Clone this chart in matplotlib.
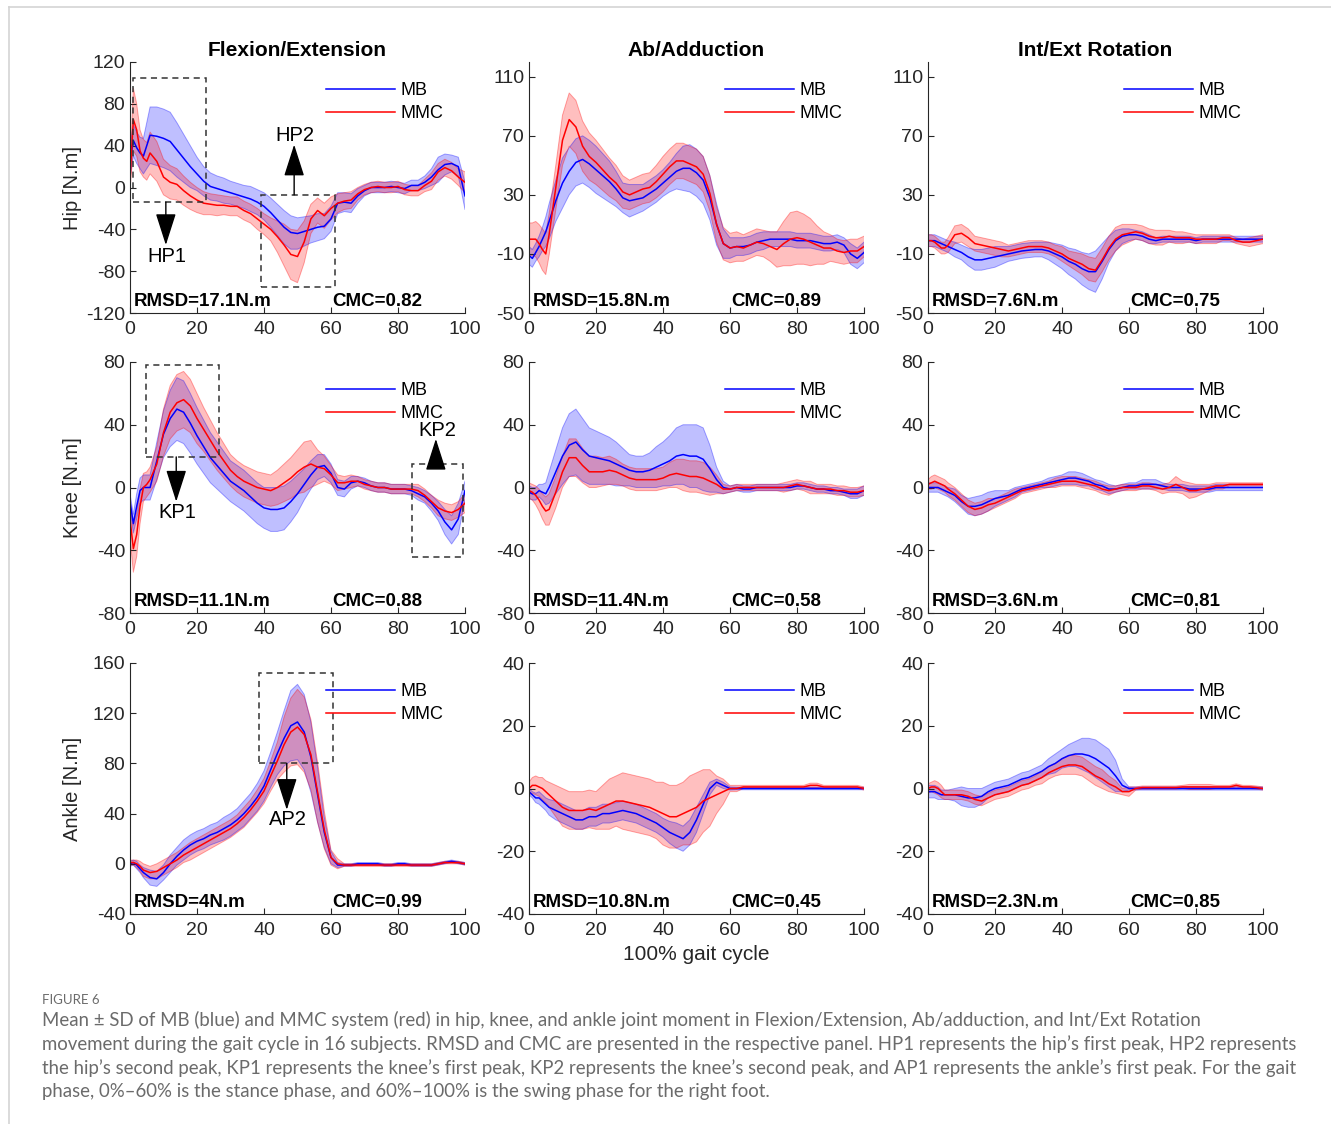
import numpy as np
import matplotlib
matplotlib.use("Agg")
import matplotlib.pyplot as plt
from matplotlib.patches import Rectangle
from matplotlib.lines import Line2D

plt.rcParams['font.family'] = ['Liberation Sans', 'DejaVu Sans']
plt.rcParams['axes.unicode_minus'] = False

### Data, % gait cycle
gait = [0, 1, 2, 3, 4, 5, 6,
        8, 10, 12, 14, 16, 18, 20, 22, 24, 26,
        28, 30, 32, 34, 36, 38, 40, 42, 44, 46,
        48, 50, 52, 54, 56, 58, 60, 62, 64, 66,
        68, 70, 72, 74, 76, 78, 80, 82, 84, 86,
        88, 90, 92, 94, 96, 98, 100]

# Hip - Flexion/Extension
hip_fe_mb_mean = [25, 45, 38, 33, 30, 40, 50,
                  49, 47, 44, 36, 28, 20, 13, 6, 1, -1,
                  -3, -5, -7, -9, -11, -14, -18, -24, -31, -38,
                  -43, -44, -42, -40, -38, -37, -30, -15, -14, -15,
                  -8, -3, 0, 0, 0, 1, 0, -1, 2, 2,
                  5, 10, 17, 22, 23, 20, -8]
hip_fe_mb_sd = [15, 15, 15, 15, 17, 22, 27,
                28, 28, 28, 26, 23, 20, 16, 14, 13, 12,
                12, 11, 11, 11, 12, 12, 13, 14, 15, 16,
                16, 15, 14, 13, 13, 12, 12, 10, 9, 9,
                7, 5, 5, 5, 5, 5, 5, 5, 5, 5,
                6, 8, 12, 10, 8, 9, 13]
hip_fe_mmc_mean = [8, 65, 55, 35, 28, 25, 33,
                   25, 10, 5, 3, -3, -8, -12, -15, -16, -17,
                   -17, -18, -18, -22, -25, -30, -35, -40, -47, -55,
                   -64, -66, -52, -30, -22, -27, -20, -15, -13, -12,
                   -6, -2, 0, 1, 0, 0, 1, -2, -3, -3,
                   2, 6, 15, 19, 16, 10, 5]
hip_fe_mmc_sd = [10, 30, 25, 20, 18, 18, 20,
                 19, 17, 16, 15, 14, 13, 12, 11, 10, 10,
                 9, 9, 9, 9, 9, 10, 10, 11, 15, 20,
                 24, 25, 20, 14, 12, 12, 11, 9, 8, 8,
                 6, 5, 5, 5, 5, 5, 5, 5, 5, 5,
                 6, 8, 8, 8, 8, 8, 10]

# Hip - Ab/Adduction
hip_aa_mb_mean = [-11, -13, -9, -5, 0, 5, 12,
                  26, 38, 46, 52, 54, 51, 47, 43, 39, 34,
                  28, 26, 27, 28, 31, 34, 38, 42, 46, 48,
                  48, 45, 40, 28, 10, -3, -6, -5, -5, -4,
                  -2, -1, 0, 0, 0, 0, -1, -1, -1, -2,
                  -3, -3, -2, -4, -10, -13, -9]
hip_aa_mb_sd = [6, 6, 6, 7, 8, 10, 12,
                14, 17, 16, 16, 16, 16, 16, 15, 14, 12,
                10, 11, 10, 9, 9, 9, 9, 10, 12, 15,
                16, 16, 16, 15, 14, 10, 7, 6, 6, 6,
                6, 6, 5, 5, 5, 5, 5, 5, 5, 5,
                5, 5, 5, 5, 7, 7, 7]
hip_aa_mmc_mean = [0, 0, 0, -3, -7, -10, 3,
                   35, 67, 81, 76, 63, 56, 52, 47, 42, 38,
                   32, 30, 32, 34, 35, 39, 44, 49, 53, 53,
                   51, 49, 44, 31, 10, -3, -6, -5, -6, -4,
                   -2, -3, -5, -7, -3, 0, 1, 0, -2, -4,
                   -6, -6, -8, -9, -8, -8, -5]
hip_aa_mmc_sd = [11, 11, 12, 13, 14, 14, 14,
                 15, 17, 18, 18, 17, 16, 15, 14, 13, 12,
                 11, 10, 10, 10, 10, 11, 12, 12, 12, 12,
                 12, 12, 12, 12, 12, 11, 10, 10, 9, 9,
                 9, 9, 10, 12, 15, 18, 18, 17, 16, 13,
                 11, 9, 8, 8, 8, 8, 7]

# Hip - Int/Ext Rotation
hip_ie_mb_mean = [-1, -1, -1, -2, -3, -4, -5,
                  -7, -9, -12, -14, -14, -13, -12, -11, -10, -9,
                  -8, -7.5, -7, -7, -8, -10, -12, -15, -17, -20,
                  -22, -22, -15, -7, -1, 2, 3, 3, 2, 0,
                  -1, 0, 0, 0, 0, 0, -1, 0, 0, 0,
                  0, 0, 0, 0, 0, 0, 0]
hip_ie_mb_sd = [4, 4, 4, 4, 4, 4, 4,
                5, 5, 6, 7, 7, 7, 7, 6, 5, 5,
                5, 5, 5, 5, 6, 7, 8, 9, 10, 11,
                12, 14, 12, 9, 7, 5, 4, 3, 3, 3,
                2, 2, 2, 2, 2, 2, 2, 2, 2, 2,
                2, 2, 2, 2, 2, 2, 2]
hip_ie_mmc_mean = [-1, -1, -2, -4, -6, -6, -4,
                   3, 4, 1, -3, -4, -5, -6, -7, -8, -7,
                   -6, -5, -5, -5, -6, -8, -10, -13, -15, -17,
                   -20, -21, -14, -6, 0, 3, 4, 5, 4, 2,
                   1, 1, 2, 1, 1, 1, 0, 0, 0, 0,
                   1, 1, -1, -2, -2, -1, 0]
hip_ie_mmc_sd = [4, 4, 4, 4, 4, 4, 5,
                 6, 6, 6, 5, 5, 5, 5, 5, 4, 4,
                 4, 4, 4, 4, 4, 4, 5, 5, 6, 7,
                 8, 8, 8, 8, 8, 7, 6, 5, 5, 5,
                 5, 5, 4, 4, 4, 3, 3, 3, 3, 3,
                 2, 2, 2, 2, 3, 3, 3]

# Knee - Flexion/Extension
knee_fe_mb_mean = [-9, -23, -12, -2, 0, 0, 0,
                   17, 34, 44, 50, 48, 41, 33, 26, 19, 14,
                   9, 4, 1, -2, -6, -10, -13, -14, -14, -13,
                   -9, -4, 2, 8, 13, 14, 9, 0, -1, 3,
                   4, 3, 1, 0, 0, -1, -1, -1, -2, -4,
                   -6, -10, -15, -22, -27, -20, -2]
knee_fe_mb_sd = [5, 6, 8, 8, 8, 8, 8,
                 12, 15, 18, 20, 20, 19, 18, 17, 16, 15,
                 14, 13, 13, 13, 13, 13, 13, 14, 14, 14,
                 13, 12, 10, 9, 8, 7, 6, 5, 5, 4,
                 3, 3, 3, 3, 3, 3, 3, 3, 3, 4,
                 4, 5, 6, 8, 9, 10, 6]
knee_fe_mmc_mean = [-20, -39, -30, -12, 0, 2, 5,
                    15, 35, 48, 54, 56, 52, 44, 37, 30, 23,
                    17, 11, 7, 4, 2, 0, -1, -2, 0, 3,
                    6, 10, 13, 15, 13, 12, 8, 3, 3, 4,
                    4, 2, 1, 0, 0, -1, -1, -1, -1, -2,
                    -5, -9, -13, -15, -16, -14, -10]
knee_fe_mmc_sd = [12, 15, 14, 11, 9, 8, 8,
                  11, 15, 17, 18, 18, 17, 16, 14, 13, 12,
                  11, 10, 10, 10, 10, 10, 10, 10, 11, 12,
                  13, 14, 16, 15, 11, 8, 6, 5, 4, 4,
                  3, 3, 3, 3, 3, 3, 3, 3, 3, 4,
                  4, 4, 5, 5, 5, 5, 6]

# Knee - Ab/Adduction
knee_aa_mb_mean = [-3, -4, -4, -2, -3, -4, 0,
                   10, 20, 27, 29, 24, 20, 19, 18, 17, 15,
                   13, 11, 10, 10, 11, 13, 15, 17, 20, 21,
                   20, 20, 18, 12, 5, 0, -1, 0, -1, -1,
                   0, 0, 0, 0, 0, 0, 1, 1, 0, -1,
                   -1, -2, -2, -3, -4, -4, -2]
knee_aa_mb_sd = [4, 4, 4, 4, 5, 7, 10,
                 14, 18, 20, 21, 20, 18, 17, 16, 15, 14,
                 12, 10, 10, 10, 11, 13, 14, 16, 18, 19,
                 20, 20, 20, 15, 8, 4, 2, 2, 2, 2,
                 2, 2, 2, 2, 2, 2, 2, 2, 2, 2,
                 2, 2, 2, 2, 3, 3, 3]
knee_aa_mmc_mean = [-2, -3, -5, -8, -12, -15, -14,
                    -3, 10, 19, 19, 14, 10, 10, 10, 11, 10,
                    8, 6, 5, 5, 5, 5, 6, 8, 9, 8,
                    7, 7, 6, 4, 2, -1, -1, 0, 0, 0,
                    0, 0, 0, 0, 0, 1, 2, 1, 0, -1,
                    -1, -1, -2, -2, -3, -3, -2]
knee_aa_mmc_sd = [5, 5, 6, 7, 8, 9, 10,
                  10, 10, 12, 12, 11, 10, 10, 9, 9, 8,
                  7, 7, 7, 7, 7, 7, 7, 8, 9, 10,
                  10, 10, 10, 9, 6, 3, 2, 2, 2, 2,
                  2, 2, 2, 2, 3, 3, 3, 3, 4, 3,
                  3, 3, 3, 3, 3, 3, 3]

# Knee - Int/Ext Rotation
knee_ie_mb_mean = [0, 0, 0, 0, -1, -2, -3,
                   -5, -9, -12, -12, -11, -9, -7, -6, -5, -3,
                   -1, 0, 1, 2, 3, 4, 5, 6, 6, 5,
                   4, 2, 1, -1, -1, 0, 1, 1, 2, 2,
                   2, 1, 0, 0, 0, -1, -1, -1, -1, 0,
                   0, 0, 0, 0, 0, 0, 0]
knee_ie_mb_sd = [3, 3, 3, 3, 3, 3, 3,
                 4, 4, 5, 6, 6, 6, 5, 4, 3, 3,
                 2, 2, 2, 2, 3, 3, 3, 4, 4, 4,
                 3, 3, 3, 3, 2, 2, 2, 2, 3, 3,
                 3, 2, 2, 2, 2, 2, 2, 2, 2, 2,
                 2, 2, 2, 2, 2, 2, 2]
knee_ie_mmc_mean = [2, 3, 4, 3, 2, 1, -1,
                    -4, -8, -12, -14, -13, -11, -10, -8, -6, -4,
                    -2, -1, 0, 1, 2, 3, 4, 4, 4, 3,
                    2, 1, -1, -2, -1, 0, 0, 0, 1, 1,
                    0, -1, 0, 2, 0, -2, -2, -1, 0, 1,
                    1, 2, 2, 2, 2, 2, 2]
knee_ie_mmc_sd = [3, 4, 4, 4, 4, 4, 4,
                  4, 4, 4, 4, 4, 4, 3, 3, 3, 3,
                  2, 2, 2, 2, 2, 3, 3, 3, 3, 3,
                  3, 3, 3, 3, 2, 2, 2, 2, 2, 2,
                  2, 3, 3, 5, 4, 5, 4, 3, 2, 2,
                  2, 1, 1, 1, 1, 1, 1]

# Ankle - Flexion/Extension
ankle_fe_mb_mean = [0, 1, -1, -4, -7, -9, -11,
                    -12, -7, 0, 6, 11, 15, 18, 20, 23, 25,
                    28, 31, 35, 40, 46, 53, 62, 75, 88, 100,
                    110, 113, 105, 85, 55, 25, 5, -1, -1, -1,
                    0, 0, 0, 0, -1, -1, 0, 0, -1, -1,
                    -1, -1, 0, 1, 2, 1, 0]
ankle_fe_mb_sd = [2, 2, 3, 3, 4, 5, 6,
                  6, 6, 7, 7, 8, 8, 8, 8, 8, 8,
                  9, 9, 9, 10, 10, 11, 12, 14, 17, 22,
                  28, 30, 30, 28, 22, 12, 5, 2, 1, 1,
                  1, 1, 1, 1, 1, 1, 1, 1, 1, 1,
                  1, 1, 1, 1, 1, 1, 1]
ankle_fe_mmc_mean = [1, 1, 0, -2, -5, -6, -7,
                     -6, -3, 0, 3, 7, 10, 13, 16, 19, 22,
                     25, 28, 32, 37, 43, 50, 58, 70, 82, 95,
                     105, 109, 103, 87, 57, 27, 5, 0, -1, -1,
                     -1, -1, -1, -1, -1, -1, -1, -1, -1, -1,
                     -1, -1, 0, 1, 1, 1, 0]
ankle_fe_mmc_sd = [2, 2, 3, 4, 5, 5, 5,
                   6, 6, 6, 6, 6, 7, 7, 7, 7, 7,
                   7, 7, 7, 8, 8, 9, 10, 12, 15, 22,
                   27, 30, 30, 28, 24, 15, 6, 4, 1, 1,
                   1, 1, 1, 1, 1, 1, 1, 1, 1, 1,
                   1, 1, 1, 1, 1, 1, 1]

# Ankle - Ab/Adduction
ankle_aa_mb_mean = [-1, -2, -3, -3, -4, -5, -6,
                    -7, -8, -9, -10, -10, -9, -9, -8, -8, -7.5,
                    -7, -7.5, -8, -9, -10, -11, -12.5, -14, -15, -16,
                    -14, -10, -5, 0, 2, 1, 0, 0, 0, 0,
                    0, 0, 0, 0, 0, 0, 0, 0, 0, 0,
                    0, 0, 0, 0, 0, 0, 0]
ankle_aa_mb_sd = [1, 1, 1.5, 2, 2, 2, 2.5,
                  3, 3, 3, 3, 3, 3, 3, 3, 3, 3,
                  3, 3, 3, 3, 3, 3, 3, 3.5, 4, 4,
                  4, 4, 3, 2, 1, 1, 0.5, 0.4, 0.4, 0.4,
                  0.4, 0.4, 0.4, 0.4, 0.4, 0.4, 0.4, 0.4, 0.4, 0.4,
                  0.4, 0.4, 0.4, 0.4, 0.4, 0.4, 0.4]
ankle_aa_mmc_mean = [0, 1, 1, 0.5, 0, -1, -2,
                     -4, -6, -7, -7, -7, -6.5, -7, -6, -5, -4,
                     -4, -4.5, -5, -5.5, -6, -7, -8, -9, -9, -8,
                     -7, -6, -4, -3, -2, -1, 0, 0, 0.5, 0.5,
                     0.5, 0.5, 0.5, 0.5, 0.5, 0.5, 0.5, 0.5, 1, 1,
                     0.5, 0.5, 0.5, 0.5, 0.5, 0.5, 0]
ankle_aa_mmc_sd = [2, 2.5, 3, 3, 3.5, 3.5, 4,
                   5, 6, 6, 6, 6, 6, 6, 7, 8, 8,
                   9, 9, 9, 9, 9, 9, 10, 10, 10, 10,
                   11, 11, 10, 9, 6, 4, 1, 1, 0.5, 0.5,
                   0.5, 0.5, 0.5, 0.5, 0.5, 0.5, 0.5, 0.5, 0.7, 0.7,
                   0.5, 0.5, 0.5, 0.5, 0.5, 0.5, 0.5]

# Ankle - Int/Ext Rotation
ankle_ie_mb_mean = [-1, -1, -1, -1.5, -2, -2, -2,
                    -2, -2.5, -3, -3, -2.5, -1, 0, 0.5, 1, 2,
                    3, 3.5, 4.5, 5.5, 7, 8, 9.5, 10.5, 11, 11,
                    10.5, 9.5, 8, 6.5, 4, 1, 0, 0, 0, 0,
                    0, 0, 0, 0, 0, 0, 0, 0, 0, 0,
                    0, 0, 0, 0, 0, 0, 0]
ankle_ie_mb_sd = [2, 2, 2, 2, 1.5, 1.5, 1.5,
                  2, 3, 3, 3, 2.5, 2, 2, 2, 2, 2,
                  2, 2, 2, 2, 2.5, 3, 3, 3.5, 4, 5,
                  5.5, 6, 6, 6, 5, 2, 0.5, 0.5, 0.5, 0.5,
                  0.5, 0.5, 0.5, 0.5, 0.5, 0.5, 0.5, 0.5, 0.5, 0.5,
                  0.5, 0.5, 0.5, 0.5, 0.5, 0.5, 0.5]
ankle_ie_mmc_mean = [0, 0.5, 0.5, 0, -1, -2, -2,
                     -2, -2, -2.5, -3.5, -4, -3, -2, -1.5, -1, 0,
                     1, 1.5, 2.5, 3.5, 5, 6, 7, 7.5, 7.5, 7,
                     5.5, 4, 3, 1.5, 0.5, -1, -1, 0, 0.3, 0.3,
                     0.3, 0.3, 0.3, 0.3, 0.5, 0.5, 0.5, 0.5, 0.5, 0.5,
                     0.5, 0.5, 1, 0.5, 0.5, 0.3, 0]
ankle_ie_mmc_sd = [1.5, 1.5, 2, 2, 2, 1.5, 1.5,
                   1.5, 1.5, 1.5, 1.5, 1.5, 1.5, 1.5, 1.5, 1.5, 1.5,
                   1.5, 1.5, 1.5, 2, 2, 2, 2.5, 3, 3, 3,
                   3, 3, 3, 2.5, 2, 1, 1.5, 0.5, 0.5, 0.5,
                   0.5, 0.5, 0.5, 0.5, 0.5, 0.8, 0.8, 0.8, 0.8, 0.5,
                   0.5, 0.5, 0.5, 0.5, 0.5, 0.5, 0.5]

col_titles = ['Flexion/Extension', 'Ab/Adduction', 'Int/Ext Rotation']
row_labels = ['Hip [N.m]', 'Knee [N.m]', 'Ankle [N.m]']
rmsd_labels = [['RMSD=17.1N.m', 'RMSD=15.8N.m', 'RMSD=7.6N.m'],
               ['RMSD=11.1N.m', 'RMSD=11.4N.m', 'RMSD=3.6N.m'],
               ['RMSD=4N.m', 'RMSD=10.8N.m', 'RMSD=2.3N.m']]
cmc_labels = [['CMC=0.82', 'CMC=0.89', 'CMC=0.75'],
              ['CMC=0.88', 'CMC=0.58', 'CMC=0.81'],
              ['CMC=0.99', 'CMC=0.45', 'CMC=0.85']]

series = [[(hip_fe_mb_mean, hip_fe_mb_sd, hip_fe_mmc_mean, hip_fe_mmc_sd),
           (hip_aa_mb_mean, hip_aa_mb_sd, hip_aa_mmc_mean, hip_aa_mmc_sd),
           (hip_ie_mb_mean, hip_ie_mb_sd, hip_ie_mmc_mean, hip_ie_mmc_sd)],
          [(knee_fe_mb_mean, knee_fe_mb_sd, knee_fe_mmc_mean, knee_fe_mmc_sd),
           (knee_aa_mb_mean, knee_aa_mb_sd, knee_aa_mmc_mean, knee_aa_mmc_sd),
           (knee_ie_mb_mean, knee_ie_mb_sd, knee_ie_mmc_mean, knee_ie_mmc_sd)],
          [(ankle_fe_mb_mean, ankle_fe_mb_sd, ankle_fe_mmc_mean, ankle_fe_mmc_sd),
           (ankle_aa_mb_mean, ankle_aa_mb_sd, ankle_aa_mmc_mean, ankle_aa_mmc_sd),
           (ankle_ie_mb_mean, ankle_ie_mb_sd, ankle_ie_mmc_mean, ankle_ie_mmc_sd)]]

y_ticks = [[[-120, -80, -40, 0, 40, 80, 120], [-50, -10, 30, 70, 110], [-50, -10, 30, 70, 110]],
           [[-80, -40, 0, 40, 80]] * 3,
           [[-40, 0, 40, 80, 120, 160], [-40, -20, 0, 20, 40], [-40, -20, 0, 20, 40]]]
y_lims = [[(-120, 120), (-50, 120), (-50, 120)],
          [(-80, 80)] * 3,
          [(-40, 160), (-40, 40), (-40, 40)]]

# peak markers: (row, col, box x0, x1, y0, y1, arrow x, arrow from, arrow to, label, label y)
peak_boxes = [(0, 0, 0.8, 22.7, -14, 104.5, 10.7, -14, -55, 'HP1', -66),
              (0, 0, 39.1, 61.2, -95, -7, 49.0, -7, 41, 'HP2', 50),
              (1, 0, 4.8, 26.6, 19.5, 78, 13.8, 19.5, -9, 'KP1', -16),
              (1, 0, 84.2, 99.4, -44, 15, 91.3, 15, 31, 'KP2', 36.5),
              (2, 0, 38.5, 60.6, 80, 152, 46.8, 80, 43, 'AP2', 35)]

MB_COLOR = '#0000ff'
MMC_COLOR = '#ff0000'
TXT = '#262626'

fig = plt.figure(figsize=(13.31, 11.24), dpi=100)
W, H = 1331.0, 1124.0
col_left = [130, 529, 928]
row_top = [62, 362, 663]
ax_w, ax_h = 335, 251

x = np.array(gait, dtype=float)
axes = {}
for r in range(3):
    for c in range(3):
        ax = fig.add_axes([col_left[c] / W, 1 - (row_top[r] + ax_h) / H, ax_w / W, ax_h / H])
        axes[(r, c)] = ax
        mb_m, mb_s, mmc_m, mmc_s = [np.array(a, dtype=float) for a in series[r][c]]
        assert len(mb_m) == len(x) and len(mb_s) == len(x) and len(mmc_m) == len(x) and len(mmc_s) == len(x)

        ax.fill_between(x, mb_m - mb_s, mb_m + mb_s, facecolor=MB_COLOR, alpha=0.25,
                        edgecolor='none')
        ax.plot(x, mb_m + mb_s, color=MB_COLOR, alpha=0.35, lw=0.7)
        ax.plot(x, mb_m - mb_s, color=MB_COLOR, alpha=0.35, lw=0.7)
        ax.fill_between(x, mmc_m - mmc_s, mmc_m + mmc_s, facecolor=MMC_COLOR, alpha=0.25,
                        edgecolor='none')
        ax.plot(x, mmc_m + mmc_s, color=MMC_COLOR, alpha=0.35, lw=0.7)
        ax.plot(x, mmc_m - mmc_s, color=MMC_COLOR, alpha=0.35, lw=0.7)
        l1, = ax.plot(x, mb_m, color=MB_COLOR, lw=1.1)
        l2, = ax.plot(x, mmc_m, color=MMC_COLOR, lw=1.1)

        ax.set_xlim(0, 100)
        ax.set_ylim(*y_lims[r][c])
        ax.set_xticks([0, 20, 40, 60, 80, 100])
        ax.set_yticks(y_ticks[r][c])
        for s in ['top', 'right']:
            ax.spines[s].set_visible(False)
        for s in ['left', 'bottom']:
            ax.spines[s].set_color(TXT)
            ax.spines[s].set_linewidth(0.8)
        ax.tick_params(direction='in', length=4, width=0.8, colors=TXT, labelsize=14)
        ax.tick_params(axis='x', pad=5.5)
        ax.tick_params(axis='y', pad=3.5)

        ax.legend([l1, l2], ['MB', 'MMC'], loc='upper left', bbox_to_anchor=(0.585, 0.92),
                  frameon=False, fontsize=13, handlelength=3.8, handletextpad=0.3,
                  labelspacing=0.33, borderaxespad=0, borderpad=0)

        ax.text(0.01, 0.028, rmsd_labels[r][c], transform=ax.transAxes, fontsize=13.5,
                fontweight='bold', color='k', va='baseline', ha='left')
        ax.text(0.603, 0.028, cmc_labels[r][c], transform=ax.transAxes, fontsize=13.5,
                fontweight='bold', color='k', va='baseline', ha='left')

        if r == 0:
            ax.set_title(col_titles[c], fontsize=15, fontweight='bold', pad=4, color='k')
        if c == 0:
            ax.set_ylabel(row_labels[r], fontsize=14.5, color=TXT)
            ax.yaxis.set_label_coords(-0.142, 0.5)

for (r, c, x0, x1, y0, y1, ax_x, a_from, a_to, lab, lab_y) in peak_boxes:
    ax = axes[(r, c)]
    ax.add_patch(Rectangle((x0, y0), x1 - x0, y1 - y0, fill=False, edgecolor='#333333',
                           linestyle=(0, (4, 3)), lw=1.1, clip_on=False, zorder=5))
    ax.annotate('', xy=(ax_x, a_to), xytext=(ax_x, a_from),
                arrowprops=dict(arrowstyle='-|>,head_length=1.0,head_width=0.32',
                                mutation_scale=20, lw=1.0, color='k',
                                shrinkA=0, shrinkB=0), zorder=6)
    ax.text(ax_x + 0.3, lab_y, lab, fontsize=14.5, ha='center', va='center', color='k', zorder=6)

fig.text((529 + 864) / 2 / W, 1 - 955 / H, '100% gait cycle', fontsize=15, color=TXT,
         ha='center', va='center')

# page frame lines
fig.add_artist(Line2D([9 / W, 1.0], [1 - 7 / H, 1 - 7 / H], transform=fig.transFigure,
                      color='#d4d4d4', lw=1.2))
fig.add_artist(Line2D([9 / W, 9 / W], [0, 1 - 7 / H], transform=fig.transFigure,
                      color='#d4d4d4', lw=1.2))

# caption
cap_color = '#6b6b6b'
fig.text(42 / W, 1 - 1000 / H, 'FIGURE 6', fontsize=9.5, color=cap_color,
         family=['Lato', 'DejaVu Sans'], ha='left', va='center')
cap_lines = ['Mean \u00b1 SD of MB (blue) and MMC system (red) in hip, knee, and ankle joint moment in '
             'Flexion/Extension, Ab/adduction, and Int/Ext Rotation',
             'movement during the gait cycle in 16 subjects. RMSD and CMC are presented in the respective '
             'panel. HP1 represents the hip\u2019s first peak, HP2 represents',
             'the hip\u2019s second peak, KP1 represents the knee\u2019s first peak, KP2 represents the '
             'knee\u2019s second peak, and AP1 represents the ankle\u2019s first peak. For the gait',
             'phase, 0%\u201360% is the stance phase, and 60%\u2013100% is the swing phase for the right foot.']
cap_y = [1020, 1044, 1068, 1092]
cap_texts = []
for line, yy in zip(cap_lines, cap_y):
    cap_texts.append(fig.text(42 / W, 1 - yy / H, line, fontsize=12.5, color=cap_color,
                              family=['Lato', 'DejaVu Sans'], ha='left', va='center'))
# fit the long caption line to the width seen in the figure
fig.canvas.draw()
rend = fig.canvas.get_renderer()
w2 = cap_texts[1].get_window_extent(rend).width
scale = (1300 - 42) / w2
for t in cap_texts:
    t.set_fontsize(12.5 * scale)

fig.savefig('out.png', dpi=100)
